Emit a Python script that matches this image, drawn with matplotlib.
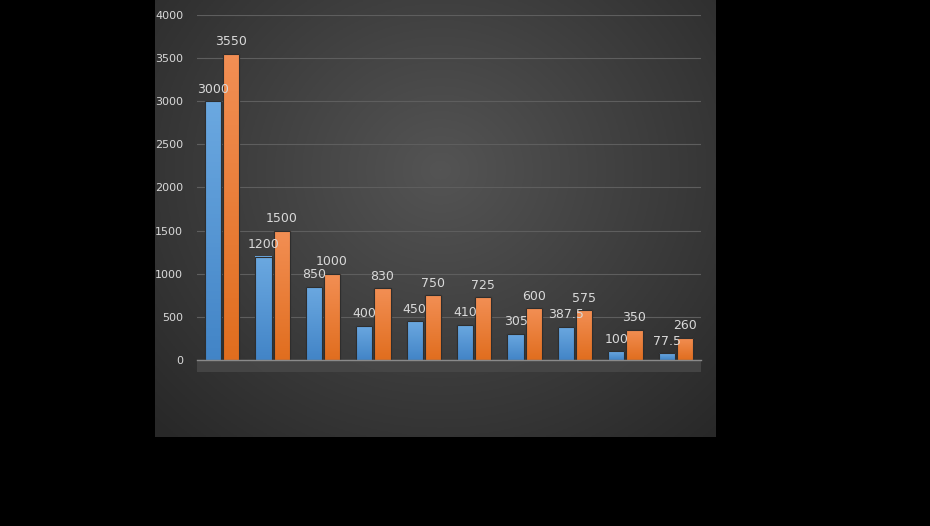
import numpy as np
import matplotlib
matplotlib.use("Agg")
import matplotlib.pyplot as plt
from matplotlib.patches import Rectangle

categories = [str(i) for i in range(1, 11)]
series_a = [3000, 1200, 850, 400, 450, 410, 305, 387.5, 100, 77.5]
series_b = [3550, 1500, 1000, 830, 750, 725, 600, 575, 350, 260]
a_labels = ["3000", "1200", "850", "400", "450", "410", "305", "387.5", "100", "77.5"]
b_labels = ["3550", "1500", "1000", "830", "750", "725", "600", "575", "350", "260"]
yticks = [0, 500, 1000, 1500, 2000, 2500, 3000, 3500, 4000]

W, H = 930, 526
fig = plt.figure(figsize=(W / 100, H / 100), dpi=100, facecolor="black")

# dark panel with radial gradient
pl, pr, pt, pb = 155, 715, 0, 437
bg = fig.add_axes([pl / W, 1 - pb / H, (pr - pl) / W, (pb - pt) / H])
nx, ny = 280, 220
xx, yy = np.meshgrid(np.linspace(pl, pr, nx), np.linspace(pt, pb, ny))
cx, cy = 440, 170
r = np.sqrt(((xx - cx) / 330) ** 2 + ((yy - cy) / 300) ** 2)
v = 0.33 - 0.17 * np.clip(r, 0, 1.2) / 1.2
bg.imshow(np.dstack([v, v, v]), extent=[0, 1, 0, 1], aspect="auto", origin="upper")
bg.set_xlim(0, 1); bg.set_ylim(0, 1)
bg.axis("off")
# floor band
bg.add_patch(Rectangle(((197 - pl) / (pr - pl), (pb - 372) / (pb - pt)),
                       (701 - 197) / (pr - pl), 12 / (pb - pt),
                       facecolor="#484848", edgecolor="none", alpha=0.85))

ax = fig.add_axes([197 / W, 1 - 360 / H, (701 - 197) / W, (360 - 15) / H])
ax.set_facecolor("none")
x = np.arange(len(categories))
w = 0.32
bars_a = ax.bar(x - w / 2 - 0.02, series_a, w, color="#5b9bd5", edgecolor="#2e2e2e", linewidth=0.8, zorder=3)
bars_b = ax.bar(x + w / 2 + 0.02, series_b, w, color="#ed7d31", edgecolor="#2e2e2e", linewidth=0.8, zorder=3)

def grad(bars, top, bottom):
    for b in bars:
        x0, y0 = b.get_x(), b.get_y()
        g = np.linspace(0, 1, 64)[:, None]
        c = np.array(top)[None, None, :] * (1 - g[..., None]) + np.array(bottom)[None, None, :] * g[..., None]
        im = ax.imshow(c, extent=[x0, x0 + b.get_width(), y0, y0 + b.get_height()],
                       aspect="auto", origin="upper", zorder=3.5)
        im.set_clip_path(b)

grad(bars_a, (0.42, 0.66, 0.88), (0.26, 0.52, 0.78))
grad(bars_b, (0.95, 0.56, 0.33), (0.88, 0.43, 0.12))
for b in list(bars_a) + list(bars_b):
    ax.add_patch(Rectangle((b.get_x(), b.get_y()), b.get_width(), b.get_height(),
                           facecolor="none", edgecolor="#2e2e2e", linewidth=0.8, zorder=4))

for bars, labs in ((bars_a, a_labels), (bars_b, b_labels)):
    for b, lab in zip(bars, labs):
        ax.annotate(lab, (b.get_x() + b.get_width() / 2, b.get_height()),
                    xytext=(0, 4), textcoords="offset points", ha="center", va="bottom",
                    color="#d9d9d9", fontsize=9, zorder=5)

ax.set_xlim(-0.5, len(categories) - 0.5)
ax.set_ylim(0, 4000)
ax.set_yticks(yticks)
ax.set_yticklabels([str(t) for t in yticks], color="#d9d9d9", fontsize=8)
ax.tick_params(axis="y", length=0, pad=10)
ax.set_xticks([])
ax.grid(axis="y", color="#5e5e5e", linewidth=0.8, zorder=0)
for s in ("top", "right", "left"):
    ax.spines[s].set_visible(False)
ax.spines["bottom"].set_color("#8a8a8a")
ax.spines["bottom"].set_linewidth(1.0)
ax.spines["bottom"].set_zorder(6)

fig.savefig("out.png", dpi=100, facecolor="black")
